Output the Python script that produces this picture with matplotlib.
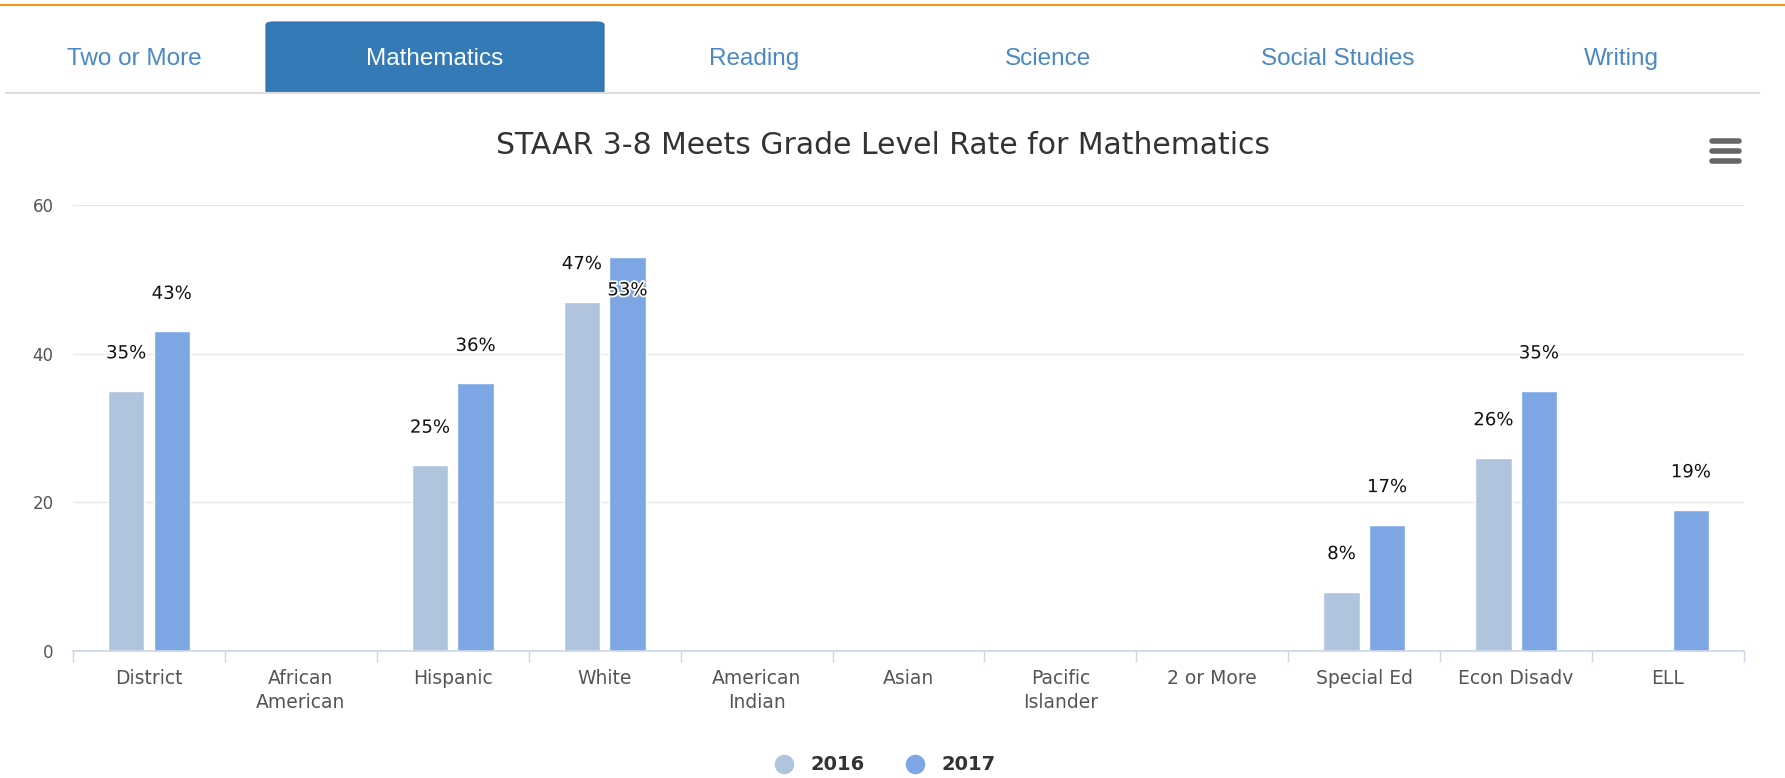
import matplotlib
matplotlib.use("Agg")
import matplotlib.pyplot as plt
import matplotlib.patheffects as pe
from matplotlib.patches import FancyBboxPatch, Rectangle
from matplotlib.lines import Line2D
import numpy as np

# --- Data ---
categories = ["District", "African\nAmerican", "Hispanic", "White", "American\nIndian",
              "Asian", "Pacific\nIslander", "2 or More", "Special Ed", "Econ Disadv", "ELL"]
rate_2016 = [35, None, 25, 47, None, None, None, None, 8, 26, None]
rate_2017 = [43, None, 36, 53, None, None, None, None, 17, 35, 19]
series_names = ["2016", "2017"]
tabs = ["Two or More", "Mathematics", "Reading", "Science", "Social Studies", "Writing"]
active_tab = "Mathematics"
title = "STAAR 3-8 Meets Grade Level Rate for Mathematics"

colors = ["#b0c4de", "#7ca6e4"]
W, H = 1785, 778

fig = plt.figure(figsize=(W / 100, H / 100), dpi=100)


def fx(x):
    return x / W


def fy(y):
    return 1 - y / H


# --- Page header: orange rule and tabs ---
fig.add_artist(Line2D([0, 1], [fy(5), fy(5)], color="#f7941d", lw=1.5))
fig.add_artist(Line2D([fx(6), fx(1759)], [fy(93), fy(93)], color="#dddddd", lw=1.5))

tab_centers = [134, 435, 754, 1048, 1338, 1621]
for name, cx in zip(tabs, tab_centers):
    if name == active_tab:
        fig.add_artist(FancyBboxPatch((fx(266), fy(110)), fx(604) - fx(266), fy(22) - fy(110),
                                      boxstyle="round,pad=0,rounding_size=0.004",
                                      facecolor="#337ab7", edgecolor="#2e6da4", lw=0.8,
                                      transform=fig.transFigure))
        fig.add_artist(Rectangle((0, fy(120)), 1, fy(94) - fy(120), facecolor="white",
                                 edgecolor="none", transform=fig.transFigure))
        tcol = "white"
    else:
        tcol = "#4a88c6"
    fig.text(fx(cx), fy(59), name, ha="center", va="center", fontsize=17.5,
             color=tcol, family="Liberation Sans")

# --- Chart ---
ax = fig.add_axes([fx(73), fy(651), fx(1744) - fx(73), fy(205) - fy(651)])
x = np.arange(len(categories))
bar_w = 0.24
offsets = [-0.15, 0.15]
all_vals = [v for s in (rate_2016, rate_2017) for v in s if v is not None]
top_val = max(all_vals)

for vals, off, col in zip((rate_2016, rate_2017), offsets, colors):
    xs = [xi + off for xi, v in zip(x, vals) if v is not None]
    vs = [v for v in vals if v is not None]
    ax.bar(xs, vs, width=bar_w, color=col, edgecolor="white", linewidth=1, zorder=3)
    for xi, v in zip(xs, vs):
        dy = -24 if v == top_val else 27
        ax.annotate(f"{v}%", xy=(xi, v), xytext=(0, dy), textcoords="offset points",
                    ha="center", va="center", fontsize=13, color="#111111", zorder=5,
                    path_effects=[pe.withStroke(linewidth=2.5, foreground="white")])

ax.set_xlim(-0.5, len(categories) - 0.5)
ax.set_ylim(0, 60)
ax.set_yticks([0, 20, 40, 60])
ax.set_xticks(x)
ax.set_xticklabels(categories, fontsize=13.5, color="#555555", linespacing=1.35, va="top")
ax.set_xticks(np.arange(-0.5, len(categories)), minor=True)
ax.tick_params(axis="x", which="major", length=0, pad=13)
ax.tick_params(axis="x", which="minor", length=8, color="#ccd6eb", width=1)
ax.tick_params(axis="y", length=0, pad=14, labelsize=12, labelcolor="#555555")
ax.grid(axis="y", color="#e6e6e6", lw=1, zorder=0)
for side in ("top", "right", "left"):
    ax.spines[side].set_visible(False)
ax.spines["bottom"].set_color("#ccd6eb")
ax.spines["bottom"].set_linewidth(1.2)
ax.spines["bottom"].set_zorder(4)

fig.text(fx(883), fy(146), title, ha="center", va="center", fontsize=21.5, color="#333333")

# menu icon
for yy in (141, 151, 161):
    fig.add_artist(Line2D([fx(1712), fx(1739)], [fy(yy), fy(yy)], color="#666666",
                          lw=4, solid_capstyle="round"))

# legend
for name, col, mx in zip(series_names, colors, (784, 915)):
    fig.add_artist(Line2D([fx(mx)], [fy(764)], marker="o", markersize=13, color=col, lw=0))
    fig.text(fx(mx + 26), fy(764), name, ha="left", va="center", fontsize=14,
             fontweight="bold", color="#333333")

fig.savefig("out.png", dpi=100)
